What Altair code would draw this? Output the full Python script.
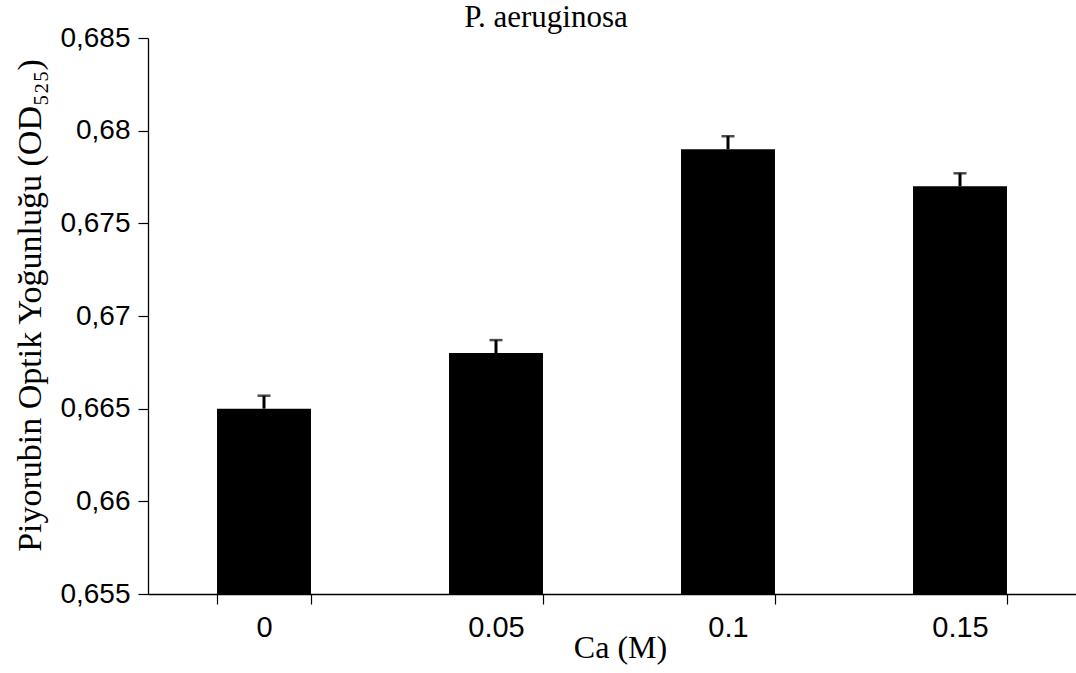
import altair as alt
import pandas as pd

categories = ["0", "0.05", "0.1", "0.15"]
values = [0.665, 0.668, 0.679, 0.677]
errors = [0.0007, 0.0007, 0.0007, 0.0007]
y_min = 0.655
y_max = 0.685
y_ticks = [0.655, 0.66, 0.665, 0.67, 0.675, 0.68, 0.685]

df = pd.DataFrame({
    "cat": categories,
    "val": values,
    "base": [y_min] * len(categories),
    "top": [v + e for v, e in zip(values, errors)],
})

x_enc = alt.X("cat:N", sort=categories, title="Ca (M)",
              scale=alt.Scale(paddingInner=0.595, paddingOuter=0.2975),
              axis=alt.Axis(labelAngle=0, labelFont="Liberation Sans", labelFontSize=29,
                            labelColor="black", labelPadding=9, labelBaseline="top",
                            titleFont="Liberation Serif", titleFontSize=32, titleFontWeight="normal",
                            titleColor="black", titleX=472, titleY=63, titleBaseline="alphabetic",
                            titleAlign="center",
                            tickBand="extent", tickSize=10, tickColor="black", tickWidth=1.2,
                            domainColor="black", domainWidth=1.3, grid=False))

y_scale = alt.Scale(domain=[y_min, y_max], zero=False, nice=False)

bars = alt.Chart(df).mark_bar(color="black").encode(
    x=x_enc,
    y=alt.Y("val:Q", scale=y_scale, title="Piyorubin Optik Yoğunluğu (OD₅₂₅)",
            axis=alt.Axis(values=y_ticks, labelExpr="replace(format(datum.value, '.3~f'), '.', ',')",
                          labelFont="Liberation Sans", labelFontSize=28, labelColor="black",
                          labelPadding=8, tickSize=10, tickColor="black", tickWidth=1.2,
                          domainColor="black", domainWidth=1.3, grid=False,
                          titleFont="Liberation Serif", titleFontSize=34, titleFontWeight="normal",
                          titleColor="black", titleX=-118, titleY=267, titleBaseline="middle",
                          titleAngle=270, titleAlign="center")),
    y2="base:Q",
)

err = alt.Chart(df).mark_rule(color="black", strokeWidth=3).encode(
    x=alt.X("cat:N", sort=categories),
    y=alt.Y("val:Q", scale=y_scale),
    y2="top:Q",
)

cap = alt.Chart(df).mark_tick(color="black", orient="horizontal", size=13, thickness=2.5).encode(
    x=alt.X("cat:N", sort=categories),
    y=alt.Y("top:Q", scale=y_scale),
)

chart = alt.layer(bars, err, cap).properties(
    width=928, height=556,
    background="white",
    title=alt.TitleParams("P. aeruginosa", font="Liberation Serif", fontSize=31,
                          fontWeight="normal", color="black", anchor="middle", dx=-66, dy=14),
    autosize=alt.AutoSizeParams(type="none"),
    padding={"left": 148, "top": 38, "right": 0, "bottom": 79},
).configure_view(stroke=None, strokeWidth=0).configure_axis(grid=False)

chart.save("out.html", embed_options={"renderer": "svg", "actions": False})
